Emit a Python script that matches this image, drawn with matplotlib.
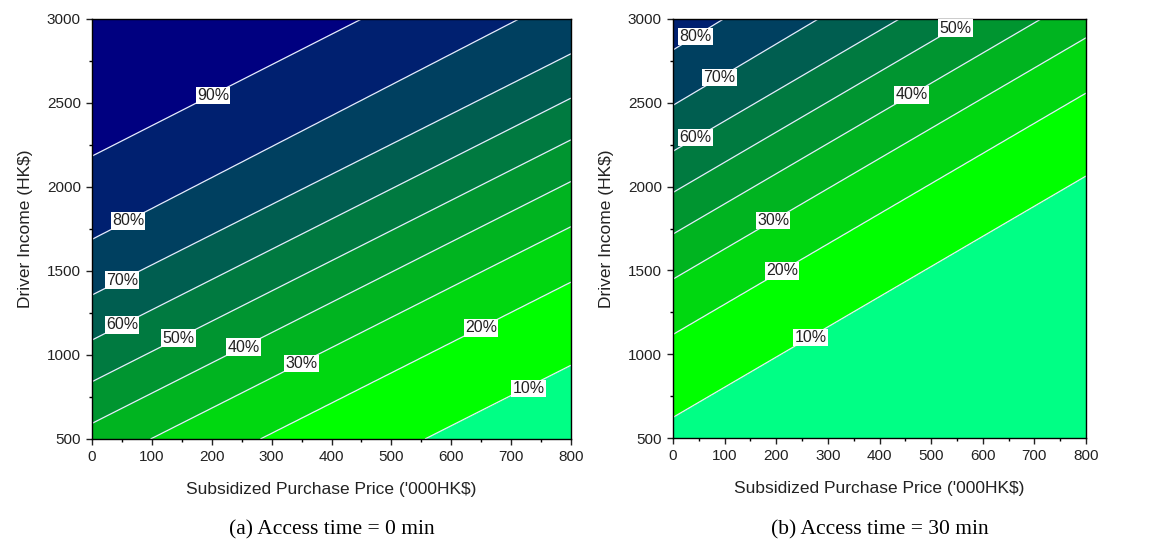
import numpy as np
import matplotlib
matplotlib.use("Agg")
import matplotlib.pyplot as plt
from matplotlib.ticker import MultipleLocator

# ---- data ----
levels = [10, 20, 30, 40, 50, 60, 70, 80, 90]
level_labels = ["10%", "20%", "30%", "40%", "50%", "60%", "70%", "80%", "90%"]

# Driver income (HK$) where each contour line meets price = 0 and price = 800 ('000HK$)
a_income_at_0 = [-501, -6, 324, 593, 841, 1089, 1357, 1688, 2184]
a_income_at_800 = [939, 1434, 1764, 2033, 2281, 2529, 2793, 3160, 3634]
b_income_at_0 = [623, 1118, 1448, 1717, 1965, 2211, 2485, 2815, 3300]
b_income_at_800 = [2063, 2558, 2888, 3157, 3405, 3651, 3949, 4327, 4800]

# label anchor positions (price, income)
a_label_pos = [(729, 800), (650, 1162), (350, 950), (253, 1047), (144, 1100),
               (50, 1180), (50, 1446), (60, 1798), (202, 2545)]
b_label_pos = [(266, 1100), (211, 1497), (194, 1797), (462, 2548), (547, 2945),
               (44, 2292), (90, 2650), (44, 2895)]
b_label_levels = [10, 20, 30, 40, 50, 60, 70, 80]

band_colors = ["#00ff85", "#00ff00", "#00d810", "#00b420", "#009530",
               "#007a40", "#005e50", "#004060", "#002070", "#000080"]

captions = ["(a) Access time = 0 min", "(b) Access time = 30 min"]
xlabel = "Subsidized Purchase Price ('000HK$)"
ylabel = "Driver Income (HK$)"


def build_field(y0, y800):
    xs = np.linspace(0, 800, 401)
    ys = np.linspace(500, 3000, 626)
    X, Y = np.meshgrid(xs, ys)
    Z = np.empty_like(X)
    y0 = np.asarray(y0, float)
    y800 = np.asarray(y800, float)
    lv = np.asarray(levels, float)
    lv_ext = np.concatenate([[0.0], lv, [100.0]])
    for j, x in enumerate(xs):
        yk = y0 + (y800 - y0) * x / 800.0
        yk_ext = np.concatenate([[yk[0] - (yk[1] - yk[0])], yk,
                                 [yk[-1] + (yk[-1] - yk[-2])]])
        Z[:, j] = np.interp(ys, yk_ext, lv_ext)
    return X, Y, Z


plt.rcParams['font.family'] = ['Liberation Sans', 'DejaVu Sans']
fig = plt.figure(figsize=(11.61, 5.46), dpi=100)

W, H = 1161, 546
axes_px = [(92, 571, 19, 439), (673, 1086, 19, 438)]
panels = [(a_income_at_0, a_income_at_800, a_label_pos, levels),
          (b_income_at_0, b_income_at_800, b_label_pos, b_label_levels)]

for i, ((x0, x1, yt, yb), (y0, y800, lpos, llev)) in enumerate(zip(axes_px, panels)):
    ax = fig.add_axes([x0 / W, 1 - yb / H, (x1 - x0) / W, (yb - yt) / H])
    X, Y, Z = build_field(y0, y800)
    ax.contourf(X, Y, Z, levels=[-1] + levels + [101], colors=band_colors)
    cs = ax.contour(X, Y, Z, levels=levels, colors="#e6eefc", linewidths=0.9)
    for lvl, (px, py) in zip(llev, lpos):
        ax.text(px, py, level_labels[levels.index(lvl)], ha="center", va="center",
                fontsize=11.5, color="#222222",
                bbox=dict(boxstyle="square,pad=0.08", fc="white", ec="none"))
    ax.set_xlim(0, 800)
    ax.set_ylim(500, 3000)
    ax.xaxis.set_major_locator(MultipleLocator(100))
    ax.xaxis.set_minor_locator(MultipleLocator(50))
    ax.yaxis.set_major_locator(MultipleLocator(500))
    ax.yaxis.set_minor_locator(MultipleLocator(250))
    ax.tick_params(which="major", direction="out", length=4.5, width=1, labelsize=11,
                   colors="#222222")
    ax.tick_params(which="minor", direction="out", length=2.5, width=1)
    for s in ax.spines.values():
        s.set_linewidth(1.0)
    ax.set_xlabel(xlabel, fontsize=12.5, labelpad=13, color="#222222")
    ax.set_ylabel(ylabel, fontsize=12.5, labelpad=10, color="#222222")
    cx = (x0 + x1) / 2 / W
    fig.text(cx, 1 - 530 / H, captions[i], ha="center", va="center",
             fontsize=15.5, family="Liberation Serif")

fig.savefig("out.png", dpi=100)
